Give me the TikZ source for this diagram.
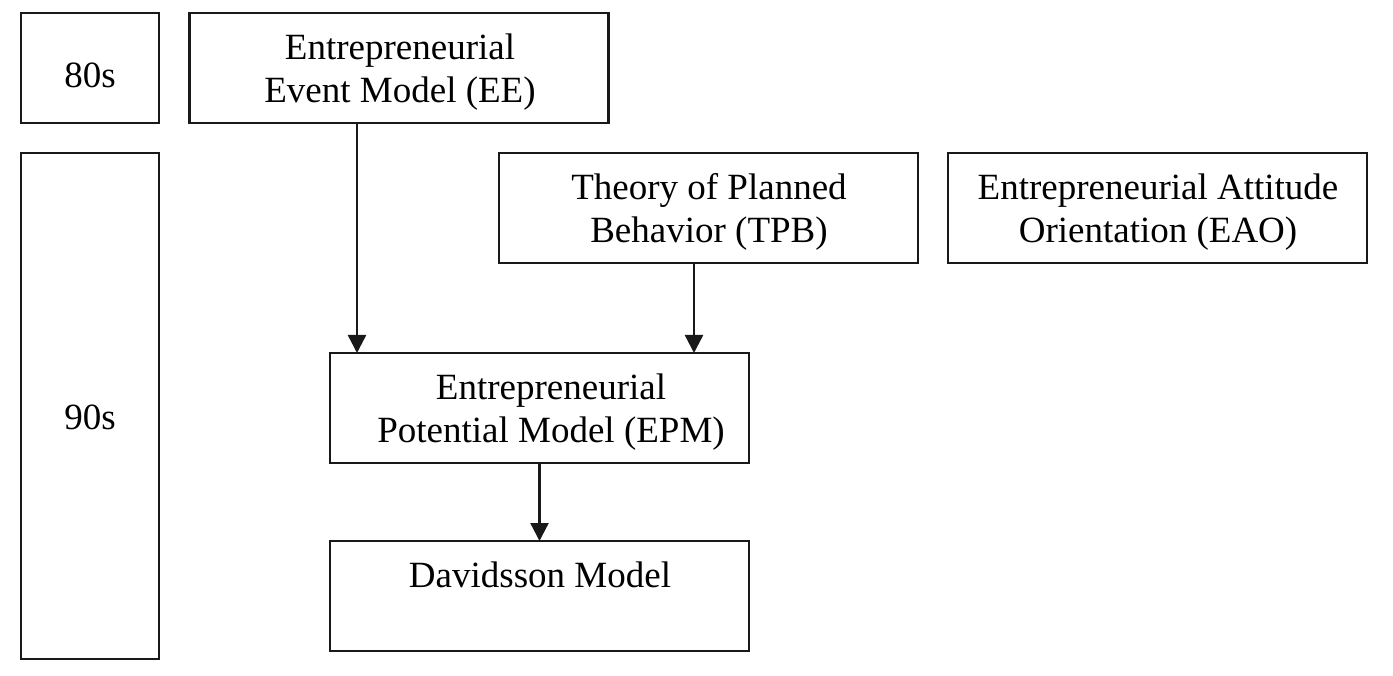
\documentclass[tikz,border=0pt]{standalone}
\usepackage{fontspec}
\setmainfont{Liberation Serif}
\usetikzlibrary{arrows.meta}
\begin{document}
\begin{tikzpicture}[x=1pt,y=-1pt,
  box/.style={draw=black!90,line width=2.6pt,inner sep=0pt,outer sep=0pt,
    minimum width=#1,minimum height=110pt},
  box/.default=419pt,
  txt/.style={inner sep=0pt,anchor=base,font=\fontsize{37}{43}\selectfont},
  arr/.style={line width=2.4pt,draw=black!90,-{Triangle[length=18pt,width=18pt]}}]
\useasboundingbox (0,0) rectangle (1393,676);
% boxes
\node[box=138pt] (s80) at (90,68) {};
\node[box=138pt,minimum height=506pt] (s90) at (90,406) {};
\node[box] (ee) at (399,68) {};
\node[box] (tpb) at (708.5,208) {};
\node[box] (eao) at (1157.5,208) {};
\node[box] (epm) at (539.5,408) {};
\node[box] (dav) at (539.5,596) {};
% texts
\node[txt] (t80) at (90,88) {80s};
\node[txt] (t90) at (90,429) {90s};
\node[txt] (ee1) at (400,59.5) {Entrepreneurial};
\node[txt] (ee2) at (400,102.5) {Event Model (EE)};
\node[txt] (tpb1) at (709,199.5) {Theory of Planned};
\node[txt] (tpb2) at (709,242.5) {Behavior (TPB)};
\node[txt] (eao1) at (1158,199.5) {Entrepreneurial Attitude};
\node[txt] (eao2) at (1158,242.5) {Orientation (EAO)};
\node[txt] (epm1) at (551,399.5) {Entrepreneurial};
\node[txt] (epm2) at (551,442.5) {Potential Model (EPM)};
\node[txt] (dav1) at (540,587) {Davidsson Model};
% connectors
\coordinate (ax1) at (357,0);
\coordinate (ax2) at (694,0);
\draw[arr] (ee.south -| ax1) -- (epm.north -| ax1);
\draw[arr] (tpb.south -| ax2) -- (epm.north -| ax2);
\draw[arr] (epm.south) -- (dav.north);
\end{tikzpicture}
\end{document}
